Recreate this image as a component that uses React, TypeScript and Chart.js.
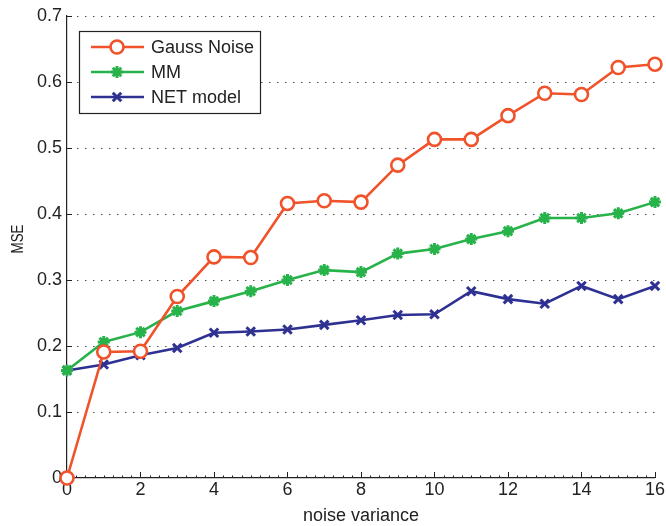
import React, { useEffect, useRef } from "react";
import { Chart, registerables } from "chart.js";

Chart.register(...registerables);

// noise variance levels
const variance = [0, 1, 2, 3, 4, 5, 6, 7, 8, 9, 10, 11, 12, 13, 14, 15, 16];

// MSE for each method
const gaussNoise = [0, 0.191, 0.192, 0.275, 0.335, 0.334, 0.416, 0.42, 0.418, 0.474, 0.513, 0.513, 0.549, 0.583, 0.581, 0.622, 0.627];
const mm = [0.163, 0.206, 0.221, 0.253, 0.268, 0.283, 0.3, 0.315, 0.312, 0.34, 0.347, 0.362, 0.374, 0.394, 0.394, 0.401, 0.418];
const netModel = [0.163, 0.172, 0.186, 0.197, 0.22, 0.222, 0.225, 0.232, 0.239, 0.247, 0.248, 0.283, 0.271, 0.264, 0.291, 0.271, 0.291];

const seriesNames = ["Gauss Noise", "MM", "NET model"];
const xTitle = "noise variance";
const yTitle = "MSE";

const ORANGE = "#f0522a";
const GREEN = "#27b24a";
const BLUE = "#2e3192";
const FONT = "'Liberation Sans', Arial, Helvetica, sans-serif";

const toPoints = (ys: number[]) => variance.map((x, i) => ({ x, y: ys[i] }));

function drawMarker(ctx: CanvasRenderingContext2D, ds: any, x: number, y: number) {
  const r = ds.pointRadius;
  ctx.save();
  ctx.strokeStyle = ds.pointBorderColor;
  ctx.fillStyle = ds.pointBackgroundColor;
  ctx.lineWidth = ds.pointBorderWidth;
  ctx.beginPath();
  if (ds.pointStyle === "circle") {
    ctx.arc(x, y, r, 0, Math.PI * 2);
    ctx.fill();
    ctx.stroke();
  } else if (ds.pointStyle === "star") {
    for (let k = 0; k < 4; k++) {
      const a = (k * Math.PI) / 4;
      ctx.moveTo(x - Math.cos(a) * r, y - Math.sin(a) * r);
      ctx.lineTo(x + Math.cos(a) * r, y + Math.sin(a) * r);
    }
    ctx.stroke();
  } else {
    const d = r * Math.SQRT1_2;
    ctx.moveTo(x - d, y - d);
    ctx.lineTo(x + d, y + d);
    ctx.moveTo(x - d, y + d);
    ctx.lineTo(x + d, y - d);
    ctx.stroke();
  }
  ctx.restore();
}

// dotted y grid, inward ticks, minor x ticks, axis titles and the legend box
const decorations = {
  id: "decorations",
  beforeDatasetsDraw(chart: any) {
    const { ctx, chartArea } = chart;
    const xs = chart.scales.x;
    const ys = chart.scales.y;
    ctx.save();
    // dotted horizontal grid
    ctx.strokeStyle = "#555";
    ctx.lineWidth = 1.2;
    ctx.setLineDash([1.5, 6.5]);
    ys.ticks.forEach((t: any) => {
      if (t.value === 0) return;
      const py = Math.round(ys.getPixelForValue(t.value)) + 0.5;
      ctx.beginPath();
      ctx.moveTo(chartArea.left + 2, py);
      ctx.lineTo(chartArea.right, py);
      ctx.stroke();
    });
    ctx.setLineDash([]);
    ctx.strokeStyle = "#222";
    ctx.lineWidth = 1;
    // y ticks, pointing in
    ys.ticks.forEach((t: any) => {
      const py = Math.round(ys.getPixelForValue(t.value)) + 0.5;
      ctx.beginPath();
      ctx.moveTo(chartArea.left, py);
      ctx.lineTo(chartArea.left + 5, py);
      ctx.stroke();
    });
    // x ticks (major and minor), pointing in
    for (let v = 0; v <= 16.0001; v += 0.25) {
      const px = Math.round(xs.getPixelForValue(v)) + 0.5;
      const major = Math.abs(v / 2 - Math.round(v / 2)) < 1e-6;
      ctx.beginPath();
      ctx.moveTo(px, chartArea.bottom);
      ctx.lineTo(px, chartArea.bottom - (major ? 6 : 2.5));
      ctx.stroke();
    }
    ctx.restore();
  },
  afterDraw(chart: any) {
    const { ctx, chartArea } = chart;
    ctx.save();
    // axis titles
    ctx.fillStyle = "#222";
    ctx.textAlign = "center";
    ctx.textBaseline = "middle";
    ctx.font = `18px ${FONT}`;
    ctx.fillText(xTitle, (chartArea.left + chartArea.right) / 2, 516);
    ctx.save();
    ctx.translate(18, 239);
    ctx.rotate(-Math.PI / 2);
    ctx.font = `17px ${FONT}`;
    ctx.fillText(yTitle, 0, 0, 29);
    ctx.restore();

    // legend
    const bx = 79.5, by = 31.5, bw = 181, bh = 82;
    ctx.fillStyle = "#fff";
    ctx.fillRect(bx, by, bw, bh);
    ctx.strokeStyle = "#222";
    ctx.lineWidth = 1.2;
    ctx.strokeRect(bx, by, bw, bh);
    const rows = [47, 72, 97];
    chart.data.datasets.forEach((ds: any, i: number) => {
      const y = rows[i];
      ctx.strokeStyle = ds.borderColor;
      ctx.lineWidth = ds.borderWidth;
      ctx.beginPath();
      ctx.moveTo(91, y);
      ctx.lineTo(144, y);
      ctx.stroke();
      drawMarker(ctx, ds, 117, y);
      ctx.fillStyle = "#222";
      ctx.textAlign = "left";
      ctx.textBaseline = "middle";
      ctx.font = `18px ${FONT}`;
      ctx.fillText(ds.label, 151, y + 1);
    });
    ctx.restore();
  },
};

export default function App() {
  const canvasRef = useRef<HTMLCanvasElement | null>(null);

  useEffect(() => {
    if (!canvasRef.current) return;
    const common = { borderWidth: 2.6, showLine: true, clip: false as any, tension: 0 };
    const chart = new Chart(canvasRef.current, {
      type: "scatter",
      data: {
        datasets: [
          {
            ...common,
            label: seriesNames[0],
            data: toPoints(gaussNoise),
            borderColor: ORANGE,
            pointStyle: "circle",
            pointRadius: 6.5,
            pointBorderWidth: 2.6,
            pointBorderColor: ORANGE,
            pointBackgroundColor: "#fff",
          },
          {
            ...common,
            label: seriesNames[1],
            data: toPoints(mm),
            borderColor: GREEN,
            pointStyle: "star",
            pointRadius: 6,
            pointBorderWidth: 3,
            pointBorderColor: GREEN,
            pointBackgroundColor: GREEN,
          },
          {
            ...common,
            label: seriesNames[2],
            data: toPoints(netModel),
            borderColor: BLUE,
            pointStyle: "crossRot",
            pointRadius: 6,
            pointBorderWidth: 3,
            pointBorderColor: BLUE,
            pointBackgroundColor: BLUE,
          },
        ],
      },
      options: {
        responsive: false,
        animation: false,
        layout: { padding: { top: 16, right: 10, left: 0, bottom: 0 } },
        plugins: { legend: { display: false }, tooltip: { enabled: false } },
        scales: {
          x: {
            type: "linear",
            min: 0,
            max: 16,
            ticks: { stepSize: 2, color: "#222", font: { family: FONT, size: 18 }, padding: 1 },
            grid: { display: false, drawTicks: false },
            border: { display: true, color: "#222", width: 1.2 },
            afterFit: (s: any) => {
              s.height = 48;
            },
          },
          y: {
            min: 0,
            max: 0.7,
            ticks: {
              stepSize: 0.1,
              color: "#222",
              font: { family: FONT, size: 18 },
              padding: 5,
              callback: (v: any) => String(+Number(v).toFixed(1)),
            },
            grid: { display: false, drawTicks: false },
            border: { display: true, color: "#222", width: 1.2 },
            afterFit: (s: any) => {
              s.width = 67;
            },
          },
        },
      },
      plugins: [decorations],
    });
    return () => chart.destroy();
  }, []);

  return (
    <div style={{ position: "fixed", left: 0, top: 0, width: 666, height: 526, background: "#fff" }}>
      <canvas ref={canvasRef} width={666} height={526} />
    </div>
  );
}
